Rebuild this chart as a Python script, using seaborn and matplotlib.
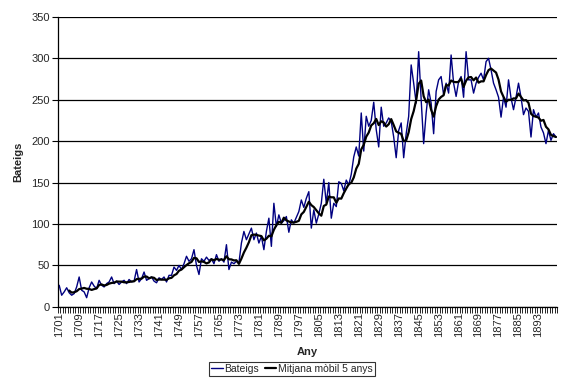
import numpy as np
import pandas as pd
import seaborn as sns
import matplotlib
matplotlib.use('Agg')
import matplotlib.pyplot as plt
from matplotlib.ticker import MultipleLocator

# Bateigs per any, 1701-1900 (llegits del gràfic)
anys = list(range(1701, 1901))
bateigs = [
    26, 14, 18, 23, 17, 14, 16, 24, 36, 20,
    18, 11, 23, 30, 25, 22, 32, 26, 24, 28,
    30, 36, 28, 31, 27, 30, 32, 28, 33, 30,
    31, 45, 30, 34, 42, 32, 34, 36, 31, 29,
    35, 33, 36, 30, 38, 38, 48, 44, 50, 45,
    52, 61, 55, 58, 69, 50, 39, 58, 55, 60,
    56, 58, 52, 63, 55, 58, 54, 75, 45, 54,
    52, 55, 53, 77, 91, 81, 88, 95, 81, 89,
    77, 85, 69, 91, 107, 73, 125, 97, 111, 101,
    104, 109, 90, 105, 101, 108, 115, 129, 120, 131,
    139, 95, 117, 101, 112, 125, 154, 125, 150, 107,
    125, 121, 151, 149, 140, 153, 147, 160, 181, 193,
    182, 234, 188, 230, 218, 225, 247, 214, 193, 241,
    218, 222, 228, 224, 205, 180, 213, 222, 180, 209,
    230, 292, 270, 246, 308, 250, 197, 234, 262, 246,
    209, 260, 274, 278, 256, 270, 258, 304, 270, 254,
    272, 278, 253, 308, 274, 274, 258, 270, 277, 282,
    274, 296, 300, 286, 270, 262, 253, 229, 253, 241,
    274, 252, 238, 253, 270, 253, 232, 240, 236, 205,
    238, 229, 234, 217, 210, 197, 213, 201, 209, 205,
]
anys_etiqueta = list(range(1701, 1901, 8))

df = pd.DataFrame({'any': anys, 'bateigs': bateigs})
df['mitjana'] = df['bateigs'].rolling(5).mean()

sns.set_theme(style='white')
plt.rcParams['font.family'] = ['Liberation Sans', 'DejaVu Sans']

fig, ax = plt.subplots(figsize=(5.68, 3.84), dpi=100)
fig.subplots_adjust(left=0.102, right=0.981, top=0.956, bottom=0.201)

sns.lineplot(data=df, x='any', y='bateigs', ax=ax, color='#000080', linewidth=1.0, label='Bateigs')
sns.lineplot(data=df, x='any', y='mitjana', ax=ax, color='black', linewidth=1.6, label='Mitjana mòbil 5 anys')

ax.set_ylim(0, 350)
ax.set_xlim(1700.5, 1900.5)
ax.yaxis.set_major_locator(MultipleLocator(50))
ax.set_xticks(anys_etiqueta)
ax.set_xticklabels([str(a) for a in anys_etiqueta], rotation=90)
ax.xaxis.set_minor_locator(MultipleLocator(1, offset=0.5))
ax.grid(axis='y', color='black', linewidth=0.9)
ax.set_axisbelow(True)

for s in ['top', 'right']:
    ax.spines[s].set_visible(False)
for s in ['left', 'bottom']:
    ax.spines[s].set_color('black')
    ax.spines[s].set_linewidth(0.9)

ax.tick_params(axis='y', which='major', direction='out', length=4, width=0.8, color='black',
               left=True, labelsize=8, pad=2)
ax.tick_params(axis='x', which='major', direction='out', length=0, labelsize=8, pad=4, bottom=True)
ax.tick_params(axis='x', which='minor', direction='out', length=4, width=0.6, color='black', bottom=True)

ax.set_xlabel('Any', fontsize=8, fontweight='bold', labelpad=7)
ax.set_ylabel('Bateigs', fontsize=8, fontweight='bold', labelpad=6)

leg = ax.legend(loc='center', bbox_to_anchor=(0.514, 0.040), bbox_transform=fig.transFigure,
                ncol=2, frameon=True, fancybox=False, fontsize=7.5, handlelength=1.1,
                handletextpad=0.2, columnspacing=0.5, borderpad=0.2, borderaxespad=0)
leg.get_frame().set_edgecolor('black')
leg.get_frame().set_linewidth(0.8)

fig.savefig('out.png', dpi=100, facecolor='white')
